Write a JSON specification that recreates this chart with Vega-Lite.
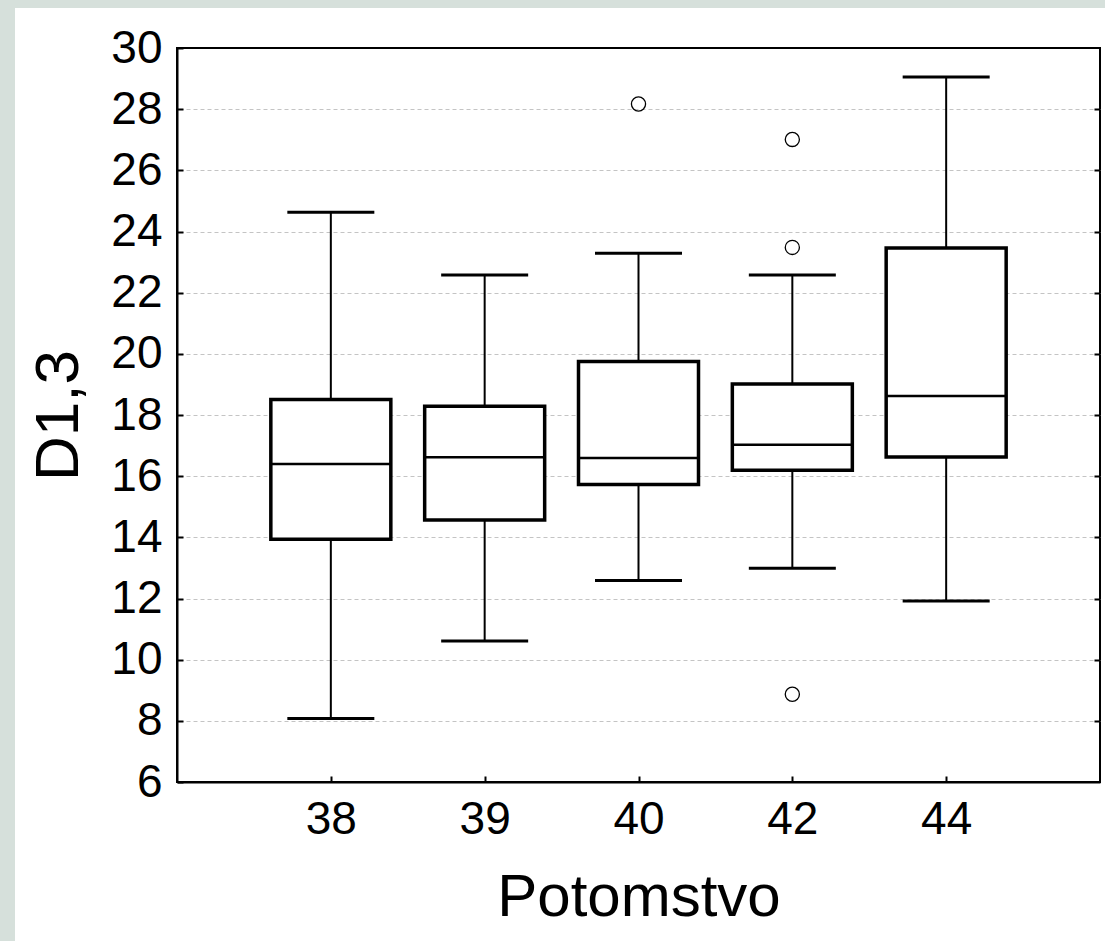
{
  "$schema": "https://vega.github.io/schema/vega-lite/v6.json",
  "padding": 0,
  "background": "white",
  "spacing": 0,
  "config": {
    "view": {"stroke": "black", "strokeWidth": 2},
    "font": "Liberation Sans"
  },
  "datasets": {
    "stats": [
      {"g": "38", "lower": 8.08, "q1": 13.94, "median": 16.40, "q3": 18.51, "upper": 24.63},
      {"g": "39", "lower": 10.61, "q1": 14.57, "median": 16.62, "q3": 18.29, "upper": 22.58},
      {"g": "40", "lower": 12.59, "q1": 15.73, "median": 16.59, "q3": 19.75, "upper": 23.29},
      {"g": "42", "lower": 12.99, "q1": 16.19, "median": 17.03, "q3": 19.01, "upper": 22.58},
      {"g": "44", "lower": 11.92, "q1": 16.63, "median": 18.62, "q3": 23.46, "upper": 29.05}
    ],
    "outliers": [
      {"g": "40", "v": 28.17},
      {"g": "42", "v": 27.01},
      {"g": "42", "v": 23.48},
      {"g": "42", "v": 8.87}
    ],
    "empty": []
  },
  "hconcat": [
    {
      "width": 15,
      "height": 941,
      "view": {"fill": "#d6e0db", "stroke": null},
      "data": {"name": "empty"},
      "mark": "point"
    },
    {
      "spacing": 16,
      "vconcat": [
        {
          "width": 1090,
          "height": 8,
          "view": {"fill": "#d6e0db", "stroke": null},
          "data": {"name": "empty"},
          "mark": "point"
        },
        {
          "spacing": 0,
          "hconcat": [
            {
              "width": 11,
              "height": 10,
              "view": {"stroke": null},
              "data": {"name": "empty"},
              "mark": "point"
            },
            {
              "width": 923,
              "height": 734,
              "encoding": {
                "x": {
                  "field": "g",
                  "type": "ordinal",
                  "scale": {"type": "point", "padding": 1, "domain": ["38", "39", "40", "42", "44"]},
                  "axis": {
                    "title": "Potomstvo",
                    "labelAngle": 0,
                    "labelFontSize": 46,
                    "labelColor": "black",
                    "labelPadding": 21,
                    "tickSize": -6,
                    "tickColor": "black",
                    "tickWidth": 2,
                    "domainColor": "black",
                    "domainWidth": 2,
                    "grid": false,
                    "titleFontSize": 60,
                    "titleFontWeight": "normal",
                    "titleColor": "black",
                    "titlePadding": 26
                  }
                }
              },
              "resolve": {"axis": {"y": "independent"}},
              "layer": [
                {
                  "data": {"name": "stats"},
                  "mark": {"type": "rule", "color": "black", "strokeWidth": 2},
                  "encoding": {
                    "y": {
                      "field": "lower",
                      "type": "quantitative",
                      "scale": {"domain": [6, 30], "nice": false, "zero": false},
                      "axis": {
                        "title": "D1,3",
                        "values": [6, 8, 10, 12, 14, 16, 18, 20, 22, 24, 26, 28, 30],
                        "labelFontSize": 46,
                        "labelColor": "black",
                        "labelPadding": 21,
                        "tickSize": -6,
                        "tickColor": "black",
                        "tickWidth": 2,
                        "domainColor": "black",
                        "domainWidth": 2,
                        "grid": false,
                        "titleFontSize": 62,
                        "titleFontWeight": "normal",
                        "titleColor": "black",
                        "titlePadding": 20
                      }
                    },
                    "y2": {"field": "upper"}
                  }
                },
                {
                  "data": {"name": "stats"},
                  "mark": {"type": "bar", "fill": "white", "stroke": "black", "strokeWidth": 3.5, "size": 120},
                  "encoding": {
                    "y": {
                      "field": "q1",
                      "type": "quantitative",
                      "axis": {
                        "orient": "right",
                        "values": [8, 10, 12, 14, 16, 18, 20, 22, 24, 26, 28],
                        "labels": false,
                        "title": null,
                        "tickSize": -6,
                        "tickColor": "black",
                        "tickWidth": 2,
                        "domain": false,
                        "grid": true,
                        "gridColor": "#c4c4c4",
                        "gridDash": [4, 3],
                        "gridWidth": 1
                      }
                    },
                    "y2": {"field": "q3"}
                  }
                },
                {
                  "data": {"name": "stats"},
                  "mark": {"type": "tick", "color": "black", "opacity": 1, "thickness": 2.5, "size": 120},
                  "encoding": {"y": {"field": "median", "type": "quantitative", "axis": null}}
                },
                {
                  "data": {"name": "stats"},
                  "mark": {"type": "tick", "color": "black", "opacity": 1, "thickness": 3, "size": 87},
                  "encoding": {"y": {"field": "upper", "type": "quantitative", "axis": null}}
                },
                {
                  "data": {"name": "stats"},
                  "mark": {"type": "tick", "color": "black", "opacity": 1, "thickness": 3, "size": 87},
                  "encoding": {"y": {"field": "lower", "type": "quantitative", "axis": null}}
                },
                {
                  "data": {"name": "outliers"},
                  "mark": {"type": "point", "shape": "circle", "filled": false, "stroke": "black", "strokeWidth": 1.3, "size": 200, "opacity": 1},
                  "encoding": {"y": {"field": "v", "type": "quantitative", "axis": null}}
                }
              ]
            }
          ]
        }
      ]
    }
  ]
}
